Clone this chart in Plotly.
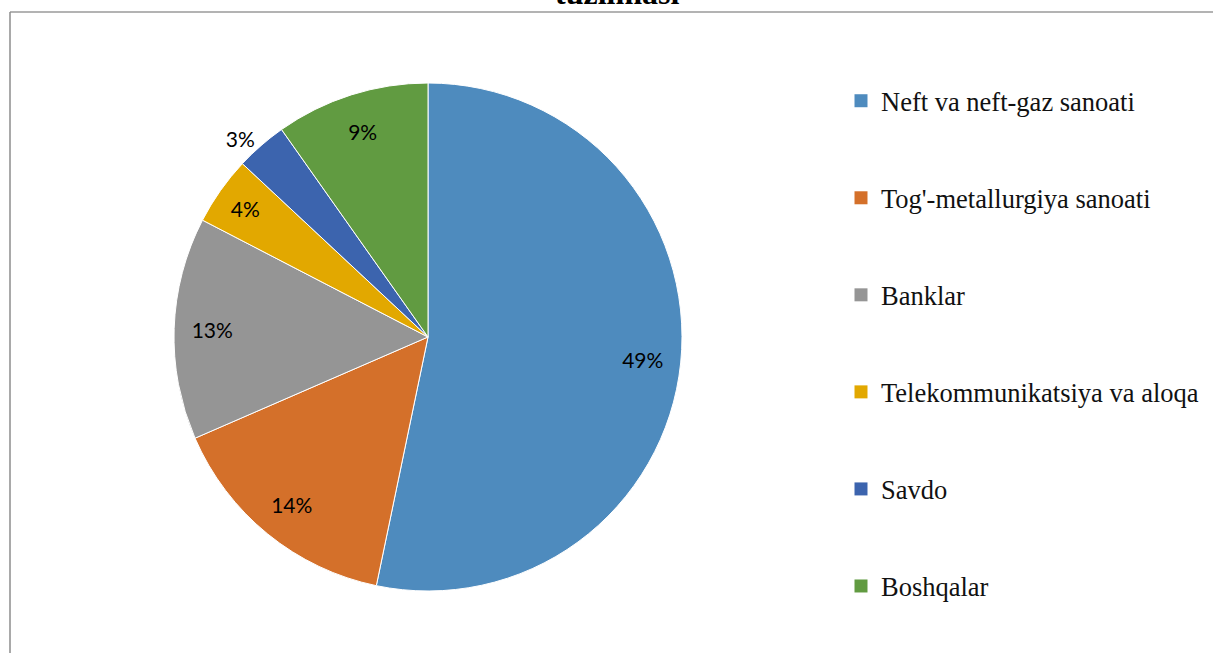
import plotly.graph_objects as go

categories = ["Neft va neft-gaz sanoati", "Tog'-metallurgiya sanoati", "Banklar",
              "Telekommunikatsiya va aloqa", "Savdo", "Boshqalar"]
values = [49, 14, 13, 4, 3, 9]
colors = ["#4E8BBE", "#D4702A", "#959595", "#E2A800", "#3C64AE", "#619B41"]
text_positions = ["inside", "inside", "inside", "inside", "outside", "inside"]
title_text = "tuzilmasi"

W, H = 1213, 653
pie_domain = dict(x=[174 / W, 682 / W], y=[1 - 591 / H, 1 - 83 / H])

fig = go.Figure()
# coloured slices
fig.add_trace(go.Pie(
    labels=categories, values=values, sort=False, direction="clockwise", rotation=0,
    marker=dict(colors=colors, line=dict(color="white", width=1)),
    textinfo="none", domain=pie_domain, showlegend=False,
    hoverinfo="label+value",
))
# transparent ring carrying the data labels (places them near the rim, like Excel)
fig.add_trace(go.Pie(
    labels=categories, values=values, sort=False, direction="clockwise", rotation=0,
    hole=0.7,
    marker=dict(colors=["rgba(0,0,0,0)"] * len(values), line=dict(width=0)),
    texttemplate="%{value}%",
    textposition=text_positions,
    insidetextorientation="horizontal",
    textfont=dict(family="Lato", size=21, color="black"),
    outsidetextfont=dict(family="Lato", size=21, color="black"),
    domain=pie_domain, showlegend=False, hoverinfo="skip",
))

for name, col in zip(categories, colors):
    fig.add_trace(go.Scatter(
        x=[None], y=[None], mode="markers", name=name, legendgroup=name,
        marker=dict(symbol="square", size=13, color=col), showlegend=True,
    ))

fig.update_layout(
    width=W, height=H,
    margin=dict(l=0, r=0, t=0, b=0),
    paper_bgcolor="white", plot_bgcolor="white",
    xaxis=dict(visible=False), yaxis=dict(visible=False),
    legend=dict(
        x=841 / W, xanchor="left", y=1 - 77 / H, yanchor="top",
        font=dict(family="Liberation Serif", size=26.5, color="#111111"),
        tracegroupgap=59.6, traceorder="grouped", bgcolor="rgba(0,0,0,0)",
    ),
    annotations=[dict(
        text="<b>" + title_text + "</b>", x=617 / W, y=1, xref="paper", yref="paper",
        xanchor="center", yanchor="middle", showarrow=False, yshift=7,
        font=dict(family="Liberation Serif", size=32, color="black"),
    )],
    shapes=[
        dict(type="line", xref="paper", yref="paper", x0=10 / W, x1=1, y0=1 - 12 / H, y1=1 - 12 / H,
             line=dict(color="#9a9a9a", width=1.5)),
        dict(type="line", xref="paper", yref="paper", x0=10 / W, x1=10 / W, y0=0, y1=1 - 12 / H,
             line=dict(color="#8c8c8c", width=1.5)),
    ],
)

fig.write_html("out.html", config={"displayModeBar": False},
               post_script="document.body.style.margin='0';")
